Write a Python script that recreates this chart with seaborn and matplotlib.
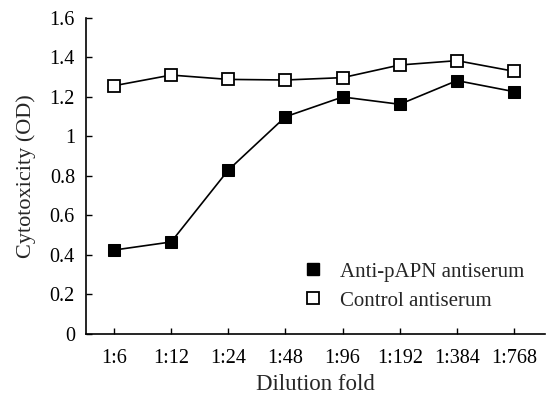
import pandas as pd
import numpy as np
import matplotlib.pyplot as plt
import seaborn as sns
from matplotlib.lines import Line2D

# values
dilutions = ["1:6", "1:12", "1:24", "1:48", "1:96", "1:192", "1:384", "1:768"]
anti_papn = [0.425, 0.466, 0.83, 1.10, 1.20, 1.163, 1.283, 1.227]
control = [1.257, 1.311, 1.289, 1.286, 1.298, 1.362, 1.384, 1.33]

df = pd.DataFrame({"Dilution": dilutions, "Anti": anti_papn, "Control": control})

sns.set_style("ticks")
plt.rcParams["font.family"] = ["Liberation Serif", "DejaVu Serif"]

fig = plt.figure(figsize=(5.53, 3.97), dpi=100)
ax = fig.add_axes([0.1555, 0.1587, 0.83, 0.796])

sns.lineplot(data=df, x="Dilution", y="Control", ax=ax, color="black", lw=1.2,
             marker="s", markersize=8, markerfacecolor="white",
             markeredgecolor="black", markeredgewidth=1.3, sort=False)
sns.lineplot(data=df, x="Dilution", y="Anti", ax=ax, color="black", lw=1.2,
             marker="s", markersize=8, markerfacecolor="black",
             markeredgecolor="black", sort=False)

ax.set_xlim(-0.49, 7.54)
ax.set_ylim(0, 1.6)
ax.set_yticks(np.arange(0, 1.61, 0.2))
ax.set_yticklabels(["0", "0.2", "0.4", "0.6", "0.8", "1", "1.2", "1.4", "1.6"])
ax.tick_params(direction="in", length=4, width=1, labelsize=14.5, colors="black")
ax.tick_params(axis="x", pad=11)
ax.tick_params(axis="y", pad=8)
for s in ["left", "bottom"]:
    ax.spines[s].set_linewidth(1.2)
    ax.spines[s].set_color("black")
sns.despine(ax=ax)

ax.set_xlabel("Dilution fold", fontsize=16.5, labelpad=4)
ax.set_ylabel("Cytotoxicity (OD)", fontsize=16, labelpad=10)

handles = [
    Line2D([], [], ls="none", marker="s", markersize=8, mfc="black", mec="black"),
    Line2D([], [], ls="none", marker="s", markersize=8, mfc="white", mec="black", mew=1.3),
]
ax.legend(handles, ["Anti-pAPN antiserum", "Control antiserum"], frameon=False,
          fontsize=15, loc="lower right", bbox_to_anchor=(0.995, 0.015),
          handletextpad=0.3, labelspacing=0.45)

fig.savefig("out.png", dpi=100)
